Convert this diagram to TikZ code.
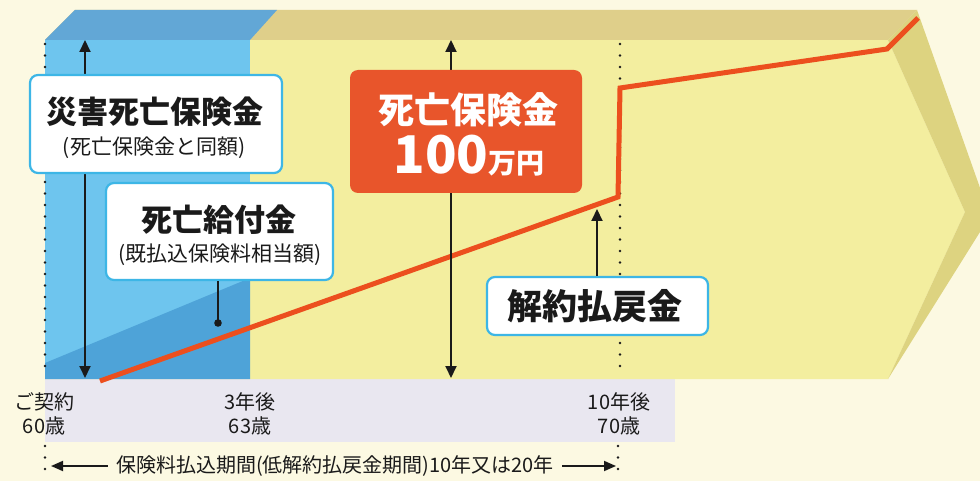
\documentclass[tikz,border=0pt]{standalone}
\usepackage{fontspec}
\setmainfont{Noto Sans CJK JP}
\usetikzlibrary{arrows.meta}
\definecolor{bg}{HTML}{FCF9E2}
\definecolor{skyf}{HTML}{6EC5EE}
\definecolor{skyt}{HTML}{62A7D6}
\definecolor{skyd}{HTML}{4EA3D8}
\definecolor{yelf}{HTML}{F3EE9F}
\definecolor{yelt}{HTML}{DFCF8A}
\definecolor{yels}{HTML}{DDD380}
\definecolor{redl}{HTML}{EC4F1E}
\definecolor{redb}{HTML}{E8552B}
\definecolor{cyanb}{HTML}{3DB6E6}
\definecolor{lav}{HTML}{E9E7F0}
\definecolor{ink}{HTML}{1A1A1A}
\begin{document}
\begin{tikzpicture}[x=1pt,y=-1pt,
  dotline/.style={ink, line width=2.8pt, line cap=round, dash pattern=on 0pt off 11.5pt},
  redline/.style={redl, line width=5pt, line join=miter},
  dblarrow/.style={ink, line width=2pt, {Triangle[length=12pt,width=11pt]}-{Triangle[length=12pt,width=11pt]}},
  onearrow/.style={ink, line width=2pt, -{Triangle[length=12pt,width=11pt]}},
  botarrow/.style={ink, line width=1.8pt, -{Triangle[length=12pt,width=10pt]}},
  wbox/.style={draw=cyanb, line width=2.2pt, fill=white, rounded corners=8pt, inner sep=0pt},
  rbox/.style={fill=redb, rounded corners=8pt, inner sep=0pt},
  txt/.style={inner sep=0pt, text=ink},
  big/.style={font=\fontsize{31}{36}\selectfont\bfseries},
  small/.style={font=\fontsize{21}{24}\selectfont},
  tick/.style={inner sep=0pt, text=ink, align=center, font=\fontsize{20}{24}\selectfont}
]
\useasboundingbox (0,0) rectangle (980,481);
\fill[bg] (0,0) rectangle (980,481);
% bottom band
\fill[lav] (45,378) rectangle (675,442);
% yellow prism
\fill[yelf] (45,40) -- (888,40) -- (965,212) -- (888,379) -- (45,379) -- cycle;
\fill[yelt] (75,10) -- (917,10) -- (888,40) -- (45,40) -- cycle;
\fill[yels] (917,10) -- (990,216) -- (888,379) -- (965,212) -- (888,40) -- cycle;
% blue part
\fill[skyf] (45,40) rectangle (250,379);
\fill[skyt] (75,10) -- (277,10) -- (250,40) -- (45,40) -- cycle;
\fill[skyd] (45,363) -- (250,278) -- (250,379) -- (45,379) -- cycle;
% dotted guides
\draw[dotline] (45,44) -- (45,376);
\draw[dotline] (620,44) -- (620,376);
\draw[dotline] (45,446) -- (45,479);
\draw[dotline] (618,446) -- (618,479);
% red value line
\draw[redline] (100,381) -- (618,197) -- (620,88) -- (887,49) -- (918,18);
% vertical double arrows
\coordinate (a1t) at (85,40);
\coordinate (a1b) at (85,378);
\coordinate (a2t) at (451,40);
\coordinate (a2b) at (451,378);
\draw[dblarrow] (a1b) -- (a1t);
\draw[dblarrow] (a2b) -- (a2t);
% boxes
\node[wbox, minimum width=252pt, minimum height=98pt] (b1) at (156,124) {};
\node[txt, big] (b1t) at (155,112) {災害死亡保険金};
\node[txt, small] (b1s) at (154,148) {(死亡保険金と同額)};
\node[wbox, minimum width=227pt, minimum height=97pt] (b2) at (219.5,231.5) {};
\node[txt, big] (b2t) at (219,220) {死亡給付金};
\node[txt, small] (b2s) at (220,255) {(既払込保険料相当額)};
\node[rbox, minimum width=232pt, minimum height=123pt] (b3) at (466,131.5) {};
\node[inner sep=0pt, text=white, font=\fontsize{36}{40}\selectfont\bfseries] (b3t) at (468,110) {死亡保険金};
\node[inner sep=0pt, text=white, anchor=base] (b3n) at (469,174) {{\fontsize{52}{52}\selectfont\bfseries 100}{\fontsize{28}{28}\selectfont\bfseries 万円}};
\node[wbox, minimum width=221pt, minimum height=58pt] (b4) at (597.5,306) {};
\node[txt, font=\fontsize{35}{40}\selectfont\bfseries] (b4t) at (595,306) {解約払戻金};
% pointer from box 2 to blue area
\coordinate (dotp) at (218,323);
\draw[ink, line width=2pt] (b2.south -| dotp) -- (dotp);
\fill[ink] (dotp) circle (3.8pt);
% arrow from box 4 to red line
\coordinate (tipA) at (597,209);
\draw[onearrow] (b4.north -| tipA) -- (tipA);
% tick labels
\node[tick] (l1) at (44,414) {ご契約\\60歳};
\node[tick] (l2) at (250,414) {3年後\\63歳};
\node[tick] (l3) at (619,414) {10年後\\70歳};
% period arrow
\node[tick, inner xsep=8pt] (per) at (335,466) {保険料払込期間(低解約払戻金期間)10年又は20年};
\coordinate (pl) at (51,466);
\coordinate (pr) at (616,466);
\draw[botarrow] (per.west) -- (pl);
\draw[botarrow] (per.east) -- (pr);
\end{tikzpicture}
\end{document}
